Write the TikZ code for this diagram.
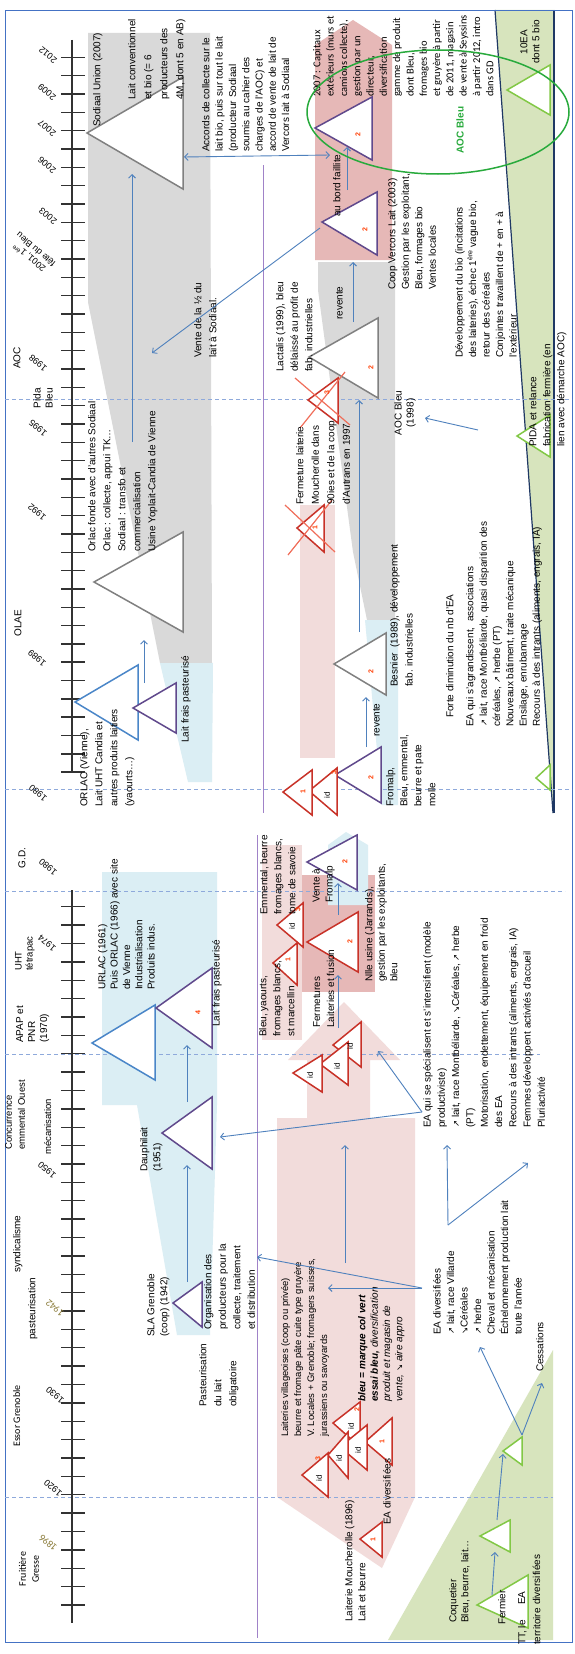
\documentclass[tikz,border=0pt]{standalone}
\usepackage{fontspec}
\setmainfont{Liberation Sans}
\newfontfamily\calf{Carlito}
\newfontfamily\dvf{DejaVu Sans}[Scale=0.85]
\usetikzlibrary{arrows.meta}
\newcommand\arrNE{{\dvf ↗}}
\newcommand\arrSE{{\dvf ↘}}
\newcommand\fsz[2]{\fontsize{#1}{#2}\selectfont}
\newcommand\tri[6]{\draw[tri,#6] (#1,#2) -- (#3,#4) -- (#3,#5) -- cycle;}
\definecolor{abl}{RGB}{79,129,189}
\definecolor{dashbl}{RGB}{142,169,219}
\definecolor{tgrey}{RGB}{128,128,128}
\definecolor{tblue}{RGB}{74,134,200}
\definecolor{tpurp}{RGB}{96,73,140}
\definecolor{tred}{RGB}{200,50,40}
\definecolor{xred}{RGB}{240,110,90}
\definecolor{tgreen}{RGB}{130,200,70}
\definecolor{rgrey}{RGB}{217,217,217}
\definecolor{rblue}{RGB}{219,238,244}
\definecolor{rpink}{RGB}{242,220,219}
\definecolor{rpinkd}{RGB}{230,184,183}
\definecolor{rgreen}{RGB}{215,228,189}
\definecolor{dkblue}{RGB}{31,56,100}
\definecolor{vline}{RGB}{160,130,200}
\definecolor{framec}{RGB}{68,114,196}
\definecolor{numred}{RGB}{255,60,0}
\definecolor{olive}{RGB}{140,125,60}
\definecolor{aocgreen}{RGB}{40,170,60}
\definecolor{axisc}{RGB}{50,50,50}
\begin{document}
\begin{tikzpicture}[x=1pt,y=-1pt,
  txt/.style={rotate=90,anchor=north west,align=left,inner sep=0pt,font=\fsz{10}{13}},
  yr/.style={rotate=140,inner sep=0pt,align=center,font=\fsz{9}{10}},
  vt/.style={rotate=90,inner sep=0pt,align=center,font=\fsz{10}{12}},
  num/.style={rotate=90,inner sep=0pt,text=numred,font=\fsz{7}{8}\bfseries},
  idl/.style={rotate=90,inner sep=0pt,font=\fsz{8}{9}},
  tri/.style={line width=1.5pt,fill=white,line join=miter},
  arr/.style={draw=abl,line width=0.9pt,-{Straight Barb[length=3.5pt,width=7pt]}},
  hdash/.style={dashbl,line width=1pt,dash pattern=on 4pt off 3pt},
  axis/.style={axisc,line width=1.4pt},
  xcross/.style={xred,line width=1.2pt}]
\useasboundingbox (0,0) rectangle (575,1654);
\fill[white] (0,0) rectangle (575,1654);

% ---------- background regions ----------
\fill[rgrey] (88,33) -- (210,33) -- (212,663) -- (160,663) -- (88,302) -- cycle;
\fill[rblue] (160,663) -- (213,663) -- (212,782) -- (188,782) -- cycle;
\fill[rpinkd] (315,260) -- (315,45) -- (353,20) -- (392,45) -- (392,260) -- cycle;
\fill[rgrey] (318,262) -- (395,262) -- (395,620) -- (367,620) -- (353,552) -- (318,290) -- cycle;
\fill[rblue] (365,620) -- (398,620) -- (398,805) -- (382,805) -- cycle;
\fill[rpink] (300,505) rectangle (335,758);
\fill[rgreen] (495,10) -- (554,10) -- (554,813) -- (553,813) -- cycle;
\draw[dkblue,line width=1.2pt] (495,10) -- (553,813);
\draw[dkblue,line width=1.2pt] (554,10) -- (554,813);

\fill[rblue] (102,872) -- (217,872) -- (217,1105) -- (210,1335) -- (177,1335) -- (137,1105) -- (102,1105) -- cycle;
\fill[rpink] (277,1118) -- (415,1118) -- (415,1497) -- (382,1568) -- (277,1497) -- cycle;
\fill[rpink] (307,1118) -- (307,1060) -- (288,1060) -- (344,1002) -- (400,1060) -- (370,1060) -- (370,1118) -- cycle;
\fill[rpink] (262,845) rectangle (302,1040);
\fill[rpinkd] (302,875) rectangle (375,992);
\fill[rblue] (328,905) -- (328,845) -- (346,832) -- (368,845) -- (368,905) -- cycle;
\fill[rgreen] (388,1640) -- (553,1350) -- (553,1640) -- cycle;

% ---------- frame, separators ----------
\draw[framec,line width=0.8pt] (5,10) rectangle (572,1642);
\draw[vline,line width=1pt] (263,165) -- (263,813);
\draw[vline,line width=1pt] (257,835) -- (257,1638);
\draw[hdash] (5,399) -- (572,399);
\draw[hdash] (5,789) -- (572,789);
\draw[hdash] (5,891) -- (565,891);
\draw[hdash] (5,1054) -- (540,1054);
\draw[hdash] (5,1497) -- (553,1497);

% ---------- timelines ----------
\draw[axis] (72,40) -- (72,772);
\foreach \k in {0,...,39} \draw[axis] (61,{57.3+18.33*\k}) -- (85,{57.3+18.33*\k});
\draw[axis] (72,890) -- (72,1623);
\foreach \k in {0,...,38} \draw[axis] (61,{906.7+18.376*\k}) -- (85,{906.7+18.376*\k});

\node[yr] (y2012) at (48,55) {2012};
\node[yr] (y2009) at (47,92) {2009};
\node[yr] (y2007) at (47,128) {2007};
\node[yr] (y2006) at (47,165) {2006};
\node[yr] (y2003) at (48,216) {2003};
\node[yr] (y2001) at (32,254) {2001, 1\textsuperscript{ère}\\fête du Bleu};
\node[yr] (y1998) at (38,363) {1998};
\node[yr] (y1995) at (38,428) {1995};
\node[yr] (y1992) at (37,512) {1992};
\node[yr] (y1989) at (37,658) {1989};
\node[yr] (y1980a) at (38,793) {1980};
\node[yr] (y1980b) at (48,867) {1980};
\node[yr] (y1974) at (47,943) {1974};
\node[yr] (y1950) at (47,1170) {1950};
\node[yr,text=olive,font=\calf\fsz{10}{11}] (y1942) at (55,1308) {1942};
\node[yr] (y1930) at (55,1395) {1930};
\node[yr] (y1920) at (53,1488) {1920};
\node[yr,text=olive,font=\calf\fsz{10}{11}] (y1896) at (48,1543) {1896};

\node[vt] (aoc) at (17,358) {AOC};
\node[vt] (pida) at (43,398) {Pida\\Bleu};
\node[vt] (olae) at (18,623) {OLAE};
\node[vt] (gd) at (22,858) {G.D.};
\node[txt,font=\fsz{9.5}{11}] (uht) at (15,971) {UHT\\tétrapac};
\node[txt,font=\fsz{10}{12}] (apap) at (16,1043) {APAP et\\PNR\\(1970)};
\node[txt,font=\fsz{9.5}{13}] (conc) at (5,1150) {Concurrence\\emmental Ouest};
\node[txt,font=\fsz{9.5}{13}] (meca) at (44,1155) {mécanisation};
\node[txt] (synd) at (13,1273) {syndicalisme};
\node[txt] (past) at (28,1340) {pasteurisation};
\node[txt,font=\calf\fsz{10}{12}] (essor) at (13,1447) {Essor Grenoble};
\node[vt,font=\calf\fsz{10}{13}] (fruit) at (29,1569) {Fruitière\\Gresse};

% ---------- triangles (upper) ----------
\tri{87}{133}{183}{77}{189}{draw=tgrey}
\tri{94}{582}{183}{532}{632}{draw=tgrey}
\tri{75}{702}{138}{665}{740}{draw=tblue}
\tri{133}{708}{176}{683}{733}{draw=tpurp}
\tri{309}{357}{378}{318}{398}{draw=tgrey}
\tri{334}{664}{386}{633}{695}{draw=tgrey}
\tri{335}{775}{381}{747}{803}{draw=tpurp}
\tri{309}{791}{337}{768}{815}{draw=tred}
\tri{283}{792}{312}{770}{815}{draw=tred}
\tri{322}{222}{377}{192}{255}{draw=tpurp}
\tri{315}{128}{372}{97}{160}{draw=tpurp}
\tri{507}{90}{550}{65}{115}{draw=tgreen}
\tri{517}{436}{550}{415}{457}{draw=tgreen}
\tri{536}{778}{550}{765}{790}{draw=tgreen}
\tri{308}{400}{338}{378}{423}{draw=tred}
\tri{297}{528}{324}{505}{552}{draw=tred}
\draw[xcross] (295,378) -- (350,425); \draw[xcross] (300,428) -- (345,372);
\draw[xcross] (285,505) -- (335,552); \draw[xcross] (288,555) -- (332,500);

\node[num] at (371,368) {2};
\node[num] at (371,672) {2};
\node[num] at (371,778) {2};
\node[num] at (365,230) {2};
\node[num] at (358,135) {2};
\node[num] at (303,792) {1};
\node[idl] at (327,795) {id};
\node[num] at (334,773) {3};
\node[num] at (327,393) {3};
\node[num] at (315,528) {1};

% ---------- triangles (lower) ----------
\tri{92}{1043}{155}{1005}{1080}{draw=tblue}
\tri{156}{1008}{212}{968}{1048}{draw=tpurp}
\tri{162}{1133}{212}{1097}{1169}{draw=tpurp}
\tri{173}{1303}{202}{1282}{1327}{draw=tpurp}
\tri{307}{862}{357}{835}{890}{draw=tpurp}
\tri{307}{942}{358}{912}{972}{draw=tred}
\tri{277}{925}{303}{903}{947}{draw=tred}
\tri{273}{963}{297}{943}{985}{draw=tred}
\tri{333}{1045}{361}{1022}{1067}{draw=tred}
\tri{320}{1064}{348}{1042}{1085}{draw=tred}
\tri{293}{1073}{322}{1055}{1092}{draw=tred}
\tri{333}{1423}{360}{1402}{1447}{draw=tred}
\tri{365}{1442}{392}{1418}{1465}{draw=tred}
\tri{340}{1447}{367}{1425}{1470}{draw=tred}
\tri{328}{1455}{348}{1432}{1478}{draw=tred}
\tri{302}{1475}{328}{1453}{1497}{draw=tred}
\tri{360}{1539}{382}{1522}{1557}{draw=tred}
\tri{477}{1605}{528}{1575}{1628}{draw=tgreen}
\tri{480}{1536}{510}{1520}{1552}{draw=tgreen}
\tri{503}{1451}{522}{1437}{1465}{draw=tgreen}

\node[num] at (198,1013) {4};
\node[num] at (345,862) {2};
\node[num] at (350,942) {2};
\node[idl] at (292,926) {id};
\node[num] at (298,910) {3};
\node[num] at (288,960) {1};
\node[idl] at (350,1046) {id};
\node[idl] at (337,1066) {id};
\node[idl] at (310,1075) {id};
\node[idl] at (351,1426) {id};
\node[num] at (357,1410) {2};
\node[num] at (382,1442) {1};
\node[idl] at (358,1450) {id};
\node[idl] at (339,1458) {id};
\node[idl] at (319,1478) {id};
\node[num] at (318,1459) {3};
\node[num] at (373,1540) {1};

% ---------- texts (upper) ----------
\node[txt] (sodu) at (93,127) {Sodiaal Union (2007)};
\node[txt,font=\fsz{10}{16}] (laitconv) at (128,100) {Lait conventionnel\\et bio (= 6\\producteurs des\\4M, dont 5 en AB)};
\node[txt,font=\fsz{10}{13.3}] (accords) at (202,152) {Accords de collecte sur le\\lait bio, puis sur tout le lait\\(producteur Sodiaal\\soumis au cahier des\\charges de l'AOC) et\\accord de vente de lait de\\Vercors lait à Sodiaal};
\node[txt,font=\fsz{10}{15}] (orlac) at (88,552) {Orlac fonde avec d'autres Sodiaal\\Orlac : collecte, appui TK…\\Sodiaal : transfo et\\commercialisation\\Usine Yoplait-Candia de Vienne};
\node[txt,font=\fsz{10}{15}] (vente) at (194,358) {Vente de la ½ du\\lait à Sodiaal.};
\node[txt] (lfp1) at (181,743) {Lait frais pasteurisé};
\node[txt,font=\fsz{10}{15}] (orlacv) at (80,807) {ORLAC (Vienne),\\Lait UHT Candia et\\autres produits laitiers\\(yaourts…)};
\node[txt,font=\fsz{10}{14.5}] (lactalis) at (276,372) {Lactalis (1999), bleu\\délaissé au profit de\\fab. industrielles};
\node[txt] (rev1) at (336,320) {revente};
\node[txt] (rev2) at (373,737) {revente};
\node[txt,font=\fsz{10}{15.5}] (ferm) at (296,505) {Fermeture laiterie\\Moucherolle dans\\90ies et de la coop\\d'Autrans en 1997};
\node[txt,font=\fsz{10}{15}] (besnier) at (390,687) {Besnier \ (1989), développement\\fab. industrielles};
\node[txt,font=\fsz{10}{14}] (fromalp) at (386,807) {Fromalp,\\Bleu, emmental,\\beurre et pate\\molle};
\node[txt,font=\fsz{10}{13.5}] (coopv) at (388,290) {Coop Vercors Lait (2003)\\Gestion par les exploitant,\\Bleu, formages bio\\Ventes locales};
\node[txt] (faillite) at (333,217) {au bord faillite};
\node[txt,font=\calf\fsz{10.5}{13.3}] (capitaux) at (313,97) {2007 : Capitaux\\extérieurs (murs et\\camions collecte),\\gestion par un\\directeur,\\diversification\\gamme de produit\\dont Bleu,\\fromages bio\\et gruyère à partir\\de 2011, magasin\\de vente à Seyssins\\à partir 2012, intro\\dans GD};
\node[vt,text=aocgreen,font=\fsz{10}{12}\bfseries] (aocbleu) at (460,130) {AOC Bleu};
\node[vt] (ea10) at (530,42) {10EA\\dont 5 bio};
\node[txt,font=\fsz{10}{14}] (pidar) at (529,447) {PIDA et relance\\fabrication fermière (en\\lien avec démarche AOC)};
\node[txt,font=\fsz{10}{13.5}] (devbio) at (455,358) {Développement du bio (incitations\\des laiteries), échec 1\textsuperscript{ère} vague bio,\\retour des céréales\\Conjointes travaillent de + en + à\\l'extérieur};
\node[txt] (forte) at (446,718) {Forte diminution du nb d'EA};
\node[txt,font=\fsz{10}{13.3}] (eaagr) at (466,727) {EA qui s'agrandissent, \ associations\\\arrNE{} lait, race Montbéliarde, quasi disparition des\\céréales, \arrNE{} herbe (PT)\\Nouveaux bâtiment, traite mécanique\\Ensilage, enrubannage\\Recours à des intrants (aliments, engrais, IA)};
\node[vt] (aoc98) at (405,413) {AOC Bleu\\(1998)};

% ---------- texts (lower) ----------
\node[txt,font=\fsz{10}{12.3}] (urlac) at (98,990) {URLAC (1961)\\Puis ORLAC (1966) avec site\\de Vienne\\Industrialisation\\Produits indus.};
\node[txt] (lfp2) at (212,1027) {Lait frais pasteurisé};
\node[txt] (dauph) at (140,1172) {Dauphilait\\(1951)};
\node[txt] (sla) at (147,1337) {SLA Grenoble\\(coop) (1942)};
\node[txt,font=\fsz{10}{14.5}] (orga) at (204,1330) {Organisation des\\producteurs pour la\\collecte, traitement\\et distribution};
\node[txt,font=\fsz{10}{15}] (pastob) at (199,1407) {Pasteurisation\\du lait\\obligatoire};
\node[txt,font=\fsz{10}{14}] (emment) at (260,915) {Emmental, beurre\\fromages blancs,\\tome de savoie};
\node[txt,font=\fsz{10}{14}] (bleuy) at (259,1037) {Bleu, yaourts,\\fromages blancs,\\st marcellin};
\node[txt,font=\fsz{10}{13}] (ventef) at (312,903) {Vente à\\Fromalp};
\node[txt,font=\fsz{10}{12.5}] (nlle) at (365,982) {Nlle usine (Jarrands),\\gestion par les exploitants,\\bleu};
\node[txt,font=\fsz{10}{14}] (fermet) at (313,1028) {Fermetures\\Laiteries et fusion};
\node[txt,font=\fsz{10}{14.3}] (easpec) at (423,1128) {EA qui se spécialisent et s'intensifient (modèle\\productiviste)\\\arrNE{} lait, race Montbéliarde, \arrSE{}Céréales, \arrNE{} herbe\\(PT)\\Motorisation, endettement, équipement en froid\\des EA\\Recours à des intrants (aliments, engrais, IA)\\Femmes développent activités d'accueil\\Pluriactivité};
\node[txt,font=\fsz{10}{13.5}] (eadiv) at (433,1335) {EA diversifiées\\\arrNE{} lait, race Villarde\\\arrSE{}Céréales\\\arrNE{} herbe\\Cheval et mécanisation\\Échelonnement production lait\\toute l'année};
\node[txt] (cess) at (536,1372) {Cessations};
\node[txt,font=\fsz{9.5}{13}] (laitvil) at (281,1437) {Laiteries villageoises (coop ou privée)\\beurre et fromage pâte cuite type gruyère\\V. Locales + Grenoble; fromagers suisses,\\jurassiens ou savoyards};
\node[txt,font=\fsz{10}{12.3}] (bleucv) at (358,1402) {\textbf{\textit{bleu = marque col vert}}\\\textbf{\textit{essai bleu,}} \textit{diversification}\\\textit{produit et magasin de}\\\textit{vente, \arrSE{} aire appro}};
\node[txt,font=\fsz{10}{13}] (lmouch) at (345,1622) {Laiterie Moucherolle (1896)\\Lait et beurre};
\node[txt] (eadivr) at (383,1525) {EA diversifiées};
\node[txt,font=\fsz{10}{12}] (coq) at (449,1623) {Coquetier\\Bleu, beurre, lait…};
\node[txt] (fermier) at (498,1625) {Fermier};
\node[txt,font=\fsz{10}{15}] (eadiv2) at (518,1605) {EA\\diversifiées};
\node[txt,font=\fsz{10}{15}] (ttle) at (518,1645) {TT, le\\territoire};

% ---------- connectors ----------
\coordinate (a1s) at (132,442); \coordinate (a1e) at (132,174);
\coordinate (a2s) at (184,157); \coordinate (a2e) at (330,155);
\coordinate (a3s) at (320,228); \coordinate (a3e) at (152,353);
\coordinate (a4s) at (353,322); \coordinate (a4e) at (353,262);
\coordinate (a5s) at (347,190); \coordinate (a5e) at (347,147);
\coordinate (a6s) at (359,632); \coordinate (a6e) at (359,400);
\coordinate (a7s) at (366,747); \coordinate (a7e) at (366,697);
\coordinate (a8s) at (144,683); \coordinate (a8e) at (144,640);
\coordinate (a9s) at (478,430); \coordinate (a9e) at (425,418);
\draw[arr] (a1s) -- (a1e);
\draw[arr,{Straight Barb[length=3.5pt,width=7pt]}-{Straight Barb[length=3.5pt,width=7pt]}] (a2s) -- (a2e);
\draw[arr] (a3s) -- (a3e);
\draw[arr] (a4s) -- (a4e);
\draw[arr] (a5s) -- (a5e);
\draw[arr] (a6s) -- (a6e);
\draw[arr] (a7s) -- (a7e);
\draw[arr] (a8s) -- (a8e);
\draw[arr] (a9s) -- (a9e);

\coordinate (b1s) at (338,915); \coordinate (b1e) at (338,883);
\coordinate (b2s) at (338,1028); \coordinate (b2e) at (338,975);
\coordinate (bsp) at (422,1112); \coordinate (b3e) at (378,1051); \coordinate (b4e) at (220,1137);
\coordinate (b5s) at (187,1102); \coordinate (b5e) at (187,1045);
\coordinate (b6s) at (187,1282); \coordinate (b6e) at (187,1165);
\coordinate (bdv) at (422,1288); \coordinate (b7e) at (257,1257); \coordinate (b8e) at (328,1288);
\coordinate (b9s) at (345,1263); \coordinate (b9e) at (345,1145);
\coordinate (bea) at (448,1225); \coordinate (b10e) at (447,1145); \coordinate (b11e) at (528,1163);
\coordinate (bce) at (522,1435); \coordinate (b12e) at (480,1347); \coordinate (b13e) at (542,1383);
\coordinate (b14s) at (492,1595); \coordinate (b14e) at (495,1552);
\coordinate (b15s) at (497,1520); \coordinate (b15e) at (503,1454);
\draw[arr] (b1s) -- (b1e);
\draw[arr] (b2s) -- (b2e);
\draw[arr] (bsp) -- (b3e);
\draw[arr] (bsp) -- (b4e);
\draw[arr] (b5s) -- (b5e);
\draw[arr] (b6s) -- (b6e);
\draw[arr] (bdv) -- (b7e);
\draw[arr] (bdv) -- (b8e);
\draw[arr] (b9s) -- (b9e);
\draw[arr] (bea) -- (b10e);
\draw[arr] (bea) -- (b11e);
\draw[arr] (bce) -- (b12e);
\draw[arr] (bce) -- (b13e);
\draw[arr] (b14s) -- (b14e);
\draw[arr] (b15s) -- (b15e);

% ---------- AOC ellipse ----------
\draw[aocgreen,line width=1.5pt] (438,112) ellipse [x radius=131,y radius=62];
\end{tikzpicture}
\end{document}
